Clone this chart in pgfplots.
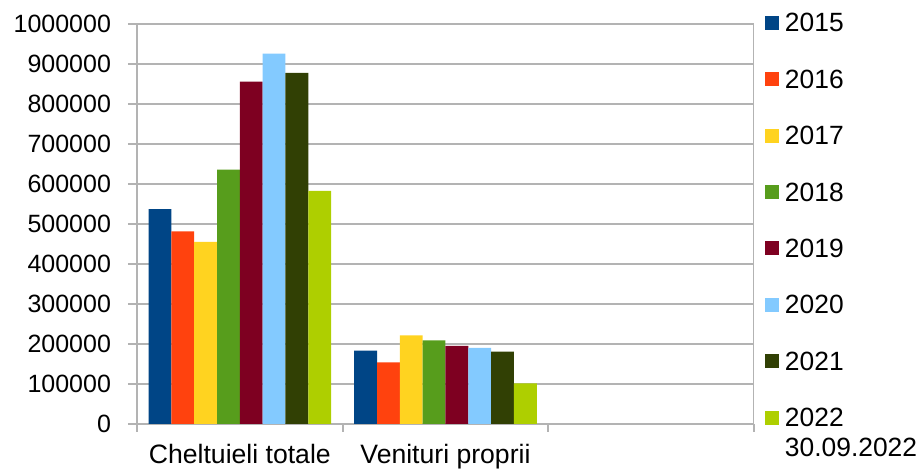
\documentclass[border=0pt]{standalone}
\usepackage{pgfplots}
\pgfplotsset{compat=1.18}
\usepackage{fontspec}
\setmainfont{Liberation Sans}
\definecolor{c15}{HTML}{004586}
\definecolor{c16}{HTML}{FF420E}
\definecolor{c17}{HTML}{FFD320}
\definecolor{c18}{HTML}{579D1C}
\definecolor{c19}{HTML}{7E0021}
\definecolor{c20}{HTML}{83CAFF}
\definecolor{c21}{HTML}{314004}
\definecolor{c22}{HTML}{AECF00}
\definecolor{gridc}{HTML}{B3B3B3}
\begin{document}
\begin{tikzpicture}[font=\fontsize{12.5pt}{15pt}\selectfont]
\useasboundingbox (-68.5pt,-23.5pt) rectangle (392.5pt,212pt);
\begin{axis}[
  at={(0,0)}, anchor=south west,
  scale only axis, width=308.5pt, height=200pt,
  xmin=-0.5, xmax=2.5, ymin=0, ymax=1000000,
  ybar=0pt, bar width=0.111,
  xtick={0,1}, xticklabels={Cheltuieli totale, Venituri proprii},
  minor xtick={-0.5,0.5,1.5,2.5},
  ytick={0,100000,200000,300000,400000,500000,600000,700000,800000,900000,1000000},
  scaled y ticks=false,
  yticklabel style={/pgf/number format/fixed, /pgf/number format/1000 sep={}, /pgf/number format/assume math mode=true, xshift=-5pt},
  xticklabel style={yshift=-2pt, font=\fontsize{13.3pt}{15pt}\selectfont},
  tick align=outside, major tick length=4.5pt, minor tick length=4pt,
  major x tick style={draw=none},
  axis x line*=bottom, axis y line*=left,
  axis line style={gridc, line width=1pt},
  ymajorgrids, grid style={gridc, line width=1pt},
  tick style={gridc, line width=1pt},
  ticklabel style={black},
  legend style={draw=none, fill=none, at={(1.0178,1.0267)}, anchor=north west,
    inner sep=0pt, outer sep=0pt, row sep=17.5pt, column sep=3pt,
    font=\fontsize{13.2pt}{15pt}\selectfont,
    nodes={inner sep=0pt, outer sep=0pt, anchor=base west}},
  legend cell align=left,
  legend image code/.code={\fill[#1,draw=none] (0pt,1pt) rectangle (7pt,8pt);},
]
\addplot[fill=c15, draw=none] coordinates {(0,537000) (1,183500)};
\addplot[fill=c16, draw=none] coordinates {(0,481500) (1,154000)};
\addplot[fill=c17, draw=none] coordinates {(0,455000) (1,221700)};
\addplot[fill=c18, draw=none] coordinates {(0,636000) (1,209000)};
\addplot[fill=c19, draw=none] coordinates {(0,856000) (1,195000)};
\addplot[fill=c20, draw=none] coordinates {(0,926000) (1,190000)};
\addplot[fill=c21, draw=none] coordinates {(0,878000) (1,181000)};
\addplot[fill=c22, draw=none] coordinates {(0,582500) (1,101700)};
\legend{2015,2016,2017,2018,2019,2020,2021,{\vtop{\baselineskip=15pt\hbox{2022}\hbox{30.09.2022}}}}
\draw[gridc, line width=1pt] (rel axis cs:1,0) -- (rel axis cs:1,1);
\end{axis}
\end{tikzpicture}
\end{document}
